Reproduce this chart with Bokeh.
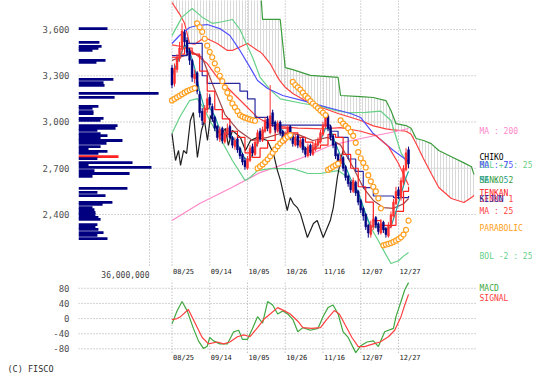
from bokeh.plotting import figure
from bokeh.models import Range1d, FixedTicker, Title
from bokeh.core.properties import value
from bokeh.layouts import column
from bokeh.embed import file_html
from bokeh.resources import INLINE

# ---------------- data ----------------
date_idx = [0, 15, 30, 45, 60, 75, 90]
date_labels = ["08/25", "09/14", "10/05", "10/26", "11/16", "12/07", "12/27"]
price_ticks = [2400, 2700, 3000, 3300, 3600]
price_tick_labels = ["2,400", "2,700", "3,000", "3,300", "3,600"]
macd_ticks = [-80, -40, 0, 40, 80]
macd_tick_labels = ["-80", "-40", "0", "40", "80"]

opens = [3350,3250,3340,3410,3470,3580,3530,3460,3400,3280, 3320,3180,3070,3000,3080,3160,3100,3030,2970,2890,
         2960,2870,2920,2970,2900,2840,2890,2830,2790,2750, 2700,2750,2840,2790,2860,2940,2880,2940,3020,2930,
         3060,3000,2940,3000,2940,2870,2910,2970,2910,2850, 2910,2840,2890,2830,2780,2850,2790,2820,2850,2870,
         2920,2970,3040,2970,2910,2860,2790,2730,2770,2710, 2650,2610,2550,2610,2550,2490,2440,2400,2330,2270,
         2320,2380,2340,2280,2350,2310,2260,2320,2390,2470, 2560,2510,2610,2690,2820]
closes = [3240,3350,3420,3480,3590,3520,3450,3400,3290,3310, 3200,3060,3010,3090,3150,3110,3020,2960,2900,2950,
          2880,2930,2960,2900,2850,2880,2820,2780,2740,2710, 2760,2830,2800,2870,2930,2890,2950,3010,2960,3040,
          2990,2950,2990,2930,2880,2920,2960,2900,2860,2900, 2850,2880,2820,2790,2840,2800,2830,2860,2880,2930,
          2980,3030,2960,2900,2850,2780,2740,2760,2700,2640, 2600,2560,2620,2540,2480,2430,2390,2320,2280,2330,
          2370,2330,2290,2340,2300,2270,2330,2400,2480,2550, 2520,2620,2700,2800,2730]
highs = [3370,3380,3440,3520,3640,3600,3550,3480,3410,3340, 3330,3200,3090,3110,3190,3180,3120,3040,2980,2970,
         2970,2950,2990,2980,2910,2900,2900,2840,2800,2770, 2780,2850,2860,2890,2950,2960,2970,3030,3040,3240,
         3080,3010,3010,3010,2950,2940,2980,2980,2920,2920, 2920,2900,2900,2840,2860,2860,2850,2880,2900,2950,
         3000,3060,3050,2980,2920,2870,2800,2790,2780,2720, 2660,2620,2640,2620,2560,2500,2450,2410,2340,2360,
         2400,2390,2350,2370,2360,2320,2350,2420,2500,2580, 2580,2640,2720,2830,2840]
lows = [3220,3230,3320,3390,3450,3490,3430,3370,3260,3250, 3180,3030,2980,2990,3060,3090,3000,2940,2880,2870,
        2860,2860,2900,2890,2830,2820,2800,2760,2720,2690, 2690,2740,2780,2780,2840,2870,2870,2930,2940,2920,
        2970,2930,2930,2910,2860,2860,2900,2880,2840,2840, 2830,2830,2800,2770,2770,2780,2780,2810,2840,2860,
        2910,2960,2940,2880,2830,2760,2720,2710,2680,2620, 2580,2540,2540,2520,2460,2410,2360,2300,2250,2250,
        2300,2310,2270,2270,2280,2250,2250,2310,2380,2460, 2500,2490,2590,2680,2700]

sar = [3140,3150,3160,3170,3180,3190,3200,3207,3214,3220,
       3640,3615,3585,3540,3495,3455,3420,3380,3340,3300,3265,3225,3190,3155,3120,3095,3070,3045,3035,3028,3022,3017,3012,3008,
       2700,2712,2725,2740,2758,2778,2800,2822,2843,2862,2878,2893,2905,2915,
       3260,3240,3225,3210,3190,3170,3155,3135,3120,3105,3090,3075,3060,3045,
       2690,2700,2710,2720,2730,
       3010,2990,2975,2960,2935,2910,2865,2805,2765,2735,2705,2655,2615,2580,2550,2505,2440,
       2200,2205,2210,2215,2222,2230,2240,2252,2270,2300,2360]

ma200_idx = [0, 11, 23, 35, 51, 63, 75, 87, 94]
ma200_val = [2361, 2471, 2569, 2672, 2763, 2848, 2893, 2932, 2958]

ma75_idx = [0,3,7,10,14,19,23,27,31,34,38,44,52,62,71,75,80,88,94]
ma75_val = [3509,3561,3613,3626,3632,3606,3561,3464,3354,3269,3217,3172,3139,3094,3055,3029,2925,2815,2744]

ma25_idx = [0,6,14,18,22,26,30,34,40,50,60,67,75,81,86,90,94]
ma25_val = [3500,3483,3379,3289,3224,3159,3094,3029,2975,2960,2955,2964,2940,2912,2840,2731,2590]

brown_idx = [0,8,12,16,21,26,32,38,44,50,56,62,67,72,76,80,84,88,92,94]
brown_val = [3400,3450,3420,3250,3050,2950,2880,2900,2930,2920,2880,2900,2850,2705,2575,2491,2445,2440,2470,2504]

ma5_idx = [0,3,5,7,9,11,13,15,17,19,21,23,25,27,29,31,33,35,37,39,41,43,45,47,49,51,53,55,57,59,61,63,65,67,69,
           71,73,75,77,79,81,83,85,87,89,91,93,94]
ma5_val = [3300,3420,3500,3460,3350,3200,3080,3090,3040,2950,2920,2920,2880,2830,2760,2760,2830,2900,2950,2990,
           2990,2960,2920,2920,2890,2870,2830,2810,2830,2880,2960,2950,2860,2780,2710,2630,2580,2500,2400,2320,
           2320,2320,2300,2320,2420,2530,2640,2680]

tenkan_idx = [0,3,5,8,11,14,17,20,23,26,29,32,35,38,41,44,47,50,53,56,59,62,65,68,71,74,77,80,83,86,89,92,94]
tenkan_val = [3420,3440,3480,3440,3330,3200,3080,3020,2940,2900,2800,2770,2830,2880,2960,2960,2930,2900,2870,2830,
              2850,2920,2900,2790,2700,2580,2480,2360,2330,2330,2420,2550,2580]

kijun_idx = [0,6,12,14,27,30,33,38,63,66,70,73,76,80,88,94]
kijun_val = [3430,3510,3300,3250,3200,3150,3030,2980,2940,2900,2760,2680,2575,2520,2510,2520]

bolu_idx = [0,4,8,12,16,20,24,27,32,35,39,43,52,60,65,70,77,83,87,91,94]
bolu_val = [3560,3680,3736,3680,3640,3650,3665,3600,3420,3290,3210,3150,3120,3100,3075,3060,3062,3070,3010,2800,2720]

bold_idx = [0,3,7,10,13,15,20,24,29,31,34,39,48,54,59,66,70,73,76,79,82,85,87,90,92,94]
bold_val = [2925,3029,3139,3152,3080,3010,2870,2750,2621,2640,2685,2698,2698,2666,2666,2685,2640,2560,2445,2316,
            2230,2140,2082,2100,2130,2154]

chiko_idx = [0,1.4,2.6,3.4,4.6,5.8,7.3,8.5,10.1,11.7,12.9,14.1,15.3,17.3,19.2,21.2,22.4,24,27.2,29.2,31.2,33.9,
             37.9,40.3,41.9,43.1,45.8,47,48.2,49.8,51,53.8,56.2,57.7,60.1,62.9,64.1,65.7,67.2,68]
chiko_val = [2925,2750,2815,2718,2815,2796,3010,3062,2770,2945,3010,2880,3042,2977,2912,2958,2848,2945,2900,2815,
             2880,2900,2880,2796,2685,2621,2426,2510,2471,2445,2407,2251,2342,2361,2251,2361,2445,2640,2770,2815]

cloud_idx = [0,3,5,7,9,13,18,22,24,30,34,35,36,39,42,43,45,48,55,66,67,75,80,85,87,89,93,95,97,100,103,106,111,116,119,120]
senko1 = [3775,3700,3640,3509,3505,3548,3509,3464,3464,3509,3464,3455,3440,3379,3289,3265,3225,3185,3120,3055,3050,
          3010,2975,2955,2950,2947,2940,2920,2860,2760,2666,2575,2504,2478,2510,2523]
senko2 = [3900,3900,3900,3900,3900,3900,3900,3900,3900,3900,3900,3900,3665,3665,3665,3665,3353,3340,3302,3289,3172,
          3165,3159,3139,3075,2990,2977,2960,2893,2880,2860,2815,2775,2735,2710,2660]

vp_price = [3606,3516,3490,3477,3464,3399,3386,3276,3256,3237,3185,3159,3101,3088,3068,3055,3023,3010,2977,2958,
            2945,2925,2912,2893,2880,2861,2841,2828,2809,2796,2776,2763,2737,2724,2705,2685,2666,2647,2569,2543,
            2523,2478,2465,2445,2432,2413,2400,2381,2368,2335,2316,2303,2283,2264,2244]
vp_vol_m = [14.7,10.6,11.7,10.1,7.1,13.7,9.1,17.7,12.7,13.2,40.6,18.3,10.1,7.1,7.6,7.6,12.7,11.2,19.8,18.8,
            9.6,11.2,14.7,11.2,22.3,14.2,11.2,5.1,14.7,10.1,20.3,9.6,27.4,5.1,37.0,8.1,25.9,7.1,24.8,9.6,
            13.7,17.2,12.2,7.1,8.1,8.6,8.6,10.1,11.2,9.6,8.6,10.1,12.7,9.6,14.7]
vp_current = 2776
vp_scale_m = 36
vp_scale_label = "36,000,000"

macd_idx = [0,2,4,6,8.5,10.5,12.5,14,15,16.5,19,22,24.5,26.5,28,30,32,34,36,38,40,42,44,46,48,50,52,55,58,60,
            62,64,66,68,70,73,75,77.5,80,82,84.5,88,89,91,92.5,94]
macd_val = [-14,20,45,21,-26,-59,-79,-73,-50,-59,-67,-67,-35,-31,-55,-55,-26,5,-12,45,36,12,20,12,-2,-35,-24,-31,
            -26,5,29,36,12,-35,-50,-90,-72,-62,-59,-74,-35,-26,5,45,76,95]
signal_idx = [0,2,3.4,6.5,9.3,12,14.5,18,20.5,23,26,28.5,31,34,36.5,39,42,44.5,47,50,52,55.5,59,61.5,64.5,66.5,
              69,71.5,74,76.5,80,82.7,86,88.5,91,92.5,94]
signal_val = [-3,0,5,24,-14,-50,-67,-62,-67,-62,-48,-43,-48,-24,-2,12,29,21,12,-7,-24,-26,-24,-2,21,12,-19,-50,
              -74,-74,-67,-62,-48,-31,5,36,64]

legend_text = ["MA : 200", "CHIKO", "BOL +2 : 25", "MA : 75", "SENKO 2", "MA : 5", "TENKAN", "SENKO 1",
               "KIJUN", "MA : 25", "PARABOLIC", "BOL -2 : 25"]
legend_price = [2938, 2770, 2718, 2718, 2621, 2621, 2536, 2497, 2497, 2420, 2309, 2128]
macd_legend_text = ["MACD", "SIGNAL"]
macd_legend_val = [80, 54]

# ---------------- layout / styles ----------------
C_UP = "#ff3030"
C_DN = "#000080"
C_MA5 = "#20a0a0"
C_MA25 = "#ff4040"
C_BROWN = "#a04848"
C_MA75 = "#5050ff"
C_MA200 = "#ff88c8"
C_BOL = "#66d088"
C_TENKAN = "#ff2020"
C_KIJUN = "#2828a0"
C_SENKO1 = "#ff4040"
C_SENKO2 = "#3c9c3c"
C_CHIKO = "#202020"
C_SAR = "#ffa020"
C_MACD = "#40a840"
C_SIGNAL = "#ff4040"
legend_color = [C_MA200, "#000000", C_BOL, C_MA75, C_SENKO2, C_MA5, C_TENKAN, C_SENKO1, C_KIJUN, C_MA25, C_SAR, C_BOL]
macd_legend_color = [C_MACD, C_SIGNAL]
FONT = "DejaVu Sans Mono"
GRID = "#a8a8a8"

X_LO, X_HI = -37.15, 143.25       # index units across the frame
GRID_END = 121.0                  # right end of the dotted grid
LEGEND_X = 122.2
P_LO, P_HI = 1972, 3788           # price frame (incl. date label row)
P_GRID_BOTTOM = 2069
P_DATE_ROW = 2030
P_VOL_ROW = 2014
M_LO, M_HI = -113.5, 100.6
M_GRID_BOTTOM = -90.3
M_DATE_ROW = -103.0
VOL_END = 230.2                   # millions across the frame


def base_axes(fig):
    fig.outline_line_color = None
    fig.xgrid.visible = False
    fig.ygrid.visible = False
    ax = fig.yaxis[0]
    ax.axis_line_color = None
    ax.major_tick_line_color = None
    ax.minor_tick_line_color = None
    ax.major_label_text_font = FONT
    ax.major_label_text_font_size = "9px"
    ax.major_label_text_color = "#505050"
    ax.major_label_standoff = 3


# ---------------- price panel ----------------
p = figure(width=532, height=280, x_range=Range1d(X_LO, X_HI), y_range=Range1d(P_LO, P_HI),
           output_backend="svg", toolbar_location=None, x_axis_location=None,
           min_border_left=78, min_border_right=0, min_border_top=0, min_border_bottom=0)
p.extra_x_ranges = {"vol": Range1d(0, VOL_END)}
base_axes(p)
p.yaxis.ticker = FixedTicker(ticks=price_ticks)
p.yaxis.major_label_overrides = {t: l for t, l in zip(price_ticks, price_tick_labels)}

# dotted grid
p.segment(x0=[X_LO] * len(price_ticks), x1=[GRID_END] * len(price_ticks), y0=price_ticks, y1=price_ticks,
          line_color=GRID, line_dash="1 2", line_width=1)
p.segment(x0=date_idx, x1=date_idx, y0=[P_GRID_BOTTOM] * len(date_idx), y1=[P_HI] * len(date_idx),
          line_color=GRID, line_dash="1 2", line_width=1)
p.segment(x0=[vp_scale_m], x1=[vp_scale_m], y0=[P_GRID_BOTTOM], y1=[P_HI], x_range_name="vol",
          line_color=GRID, line_dash="1 2", line_width=1)

# volume profile
vp_colors = [("#ff2020" if pr == vp_current else "#000080") for pr in vp_price]
p.hbar(y=vp_price, left=0, right=vp_vol_m, height=18, x_range_name="vol",
       fill_color=vp_colors, line_color=None)
p.text(x=[vp_scale_m], y=[P_VOL_ROW], text=[vp_scale_label], x_range_name="vol", text_align="right",
       text_baseline="middle", text_font=value(FONT), text_font_size=value("8px"), text_color="#404040")

# date labels
p.text(x=date_idx, y=[P_DATE_ROW] * len(date_idx), text=date_labels, text_align="left", x_offset=1,
       text_baseline="middle", text_font=value(FONT), text_font_size=value("7px"), text_color="#202020")

# ichimoku cloud
p.varea(x=cloud_idx, y1=senko1, y2=senko2, fill_color=None, fill_alpha=0,
        hatch_pattern="vertical_line", hatch_color="#c8c8c8", hatch_scale=3.0, hatch_weight=0.7)
p.line(cloud_idx, senko2, line_color=C_SENKO2, line_width=1.2)
p.line(cloud_idx, senko1, line_color=C_SENKO1, line_width=1.2)

# indicator lines
p.line(ma200_idx, ma200_val, line_color=C_MA200, line_width=1.2)
p.line(bolu_idx, bolu_val, line_color=C_BOL, line_width=1.2)
p.line(bold_idx, bold_val, line_color=C_BOL, line_width=1.2)
p.line(chiko_idx, chiko_val, line_color=C_CHIKO, line_width=1.2)
p.line(ma75_idx, ma75_val, line_color=C_MA75, line_width=1.2)
p.line(ma25_idx, ma25_val, line_color=C_MA25, line_width=1.2)
p.line(brown_idx, brown_val, line_color=C_BROWN, line_width=1.2)
p.step(kijun_idx, kijun_val, line_color=C_KIJUN, line_width=1.2, mode="after")
p.step(tenkan_idx, tenkan_val, line_color=C_TENKAN, line_width=1.2, mode="after")
p.line(ma5_idx, ma5_val, line_color=C_MA5, line_width=1.2)

# candles
idx = list(range(len(closes)))
c_col = [(C_UP if c >= o else C_DN) for o, c in zip(opens, closes)]
p.segment(x0=idx, y0=lows, x1=idx, y1=highs, line_color=c_col, line_width=1)
p.vbar(x=idx, bottom=opens, top=closes, width=0.75, fill_color=c_col, line_color=c_col, line_width=0.5)

# parabolic SAR
p.scatter(idx, sar, marker="circle", size=5, line_color=C_SAR, fill_color="white", line_width=1.2)

# right-hand legend
p.text(x=[LEGEND_X] * len(legend_text), y=legend_price, text=legend_text, text_color=legend_color,
       text_font=value(FONT), text_font_size=value("8px"), text_baseline="middle", text_align="left")

# ---------------- MACD panel ----------------
m = figure(width=532, height=93, x_range=p.x_range, y_range=Range1d(M_LO, M_HI),
           output_backend="svg", toolbar_location=None, x_axis_location=None,
           min_border_left=78, min_border_right=0, min_border_top=0, min_border_bottom=10)
base_axes(m)
m.yaxis.ticker = FixedTicker(ticks=macd_ticks)
m.yaxis.major_label_overrides = {t: l for t, l in zip(macd_ticks, macd_tick_labels)}
m.segment(x0=[X_LO] * len(macd_ticks), x1=[GRID_END] * len(macd_ticks), y0=macd_ticks, y1=macd_ticks,
          line_color=GRID, line_dash="1 2", line_width=1)
m.segment(x0=date_idx, x1=date_idx, y0=[M_GRID_BOTTOM] * len(date_idx), y1=[M_HI] * len(date_idx),
          line_color=GRID, line_dash="1 2", line_width=1)
m.text(x=date_idx, y=[M_DATE_ROW] * len(date_idx), text=date_labels, text_align="left", x_offset=1,
       text_baseline="middle", text_font=value(FONT), text_font_size=value("7px"), text_color="#202020")
m.line(macd_idx, macd_val, line_color=C_MACD, line_width=1.2)
m.line(signal_idx, signal_val, line_color=C_SIGNAL, line_width=1.2)
m.text(x=[LEGEND_X] * len(macd_legend_text), y=macd_legend_val, text=macd_legend_text,
       text_color=macd_legend_color, text_font=value(FONT), text_font_size=value("8px"),
       text_baseline="middle", text_align="left")
m.add_layout(Title(text="(C) FISCO", align="left", offset=-71, standoff=0, text_font=FONT,
                   text_font_size="8.5px", text_font_style="normal", text_color="#303030"), "below")

layout = column(p, m, spacing=0)
open("out.html", "w").write(file_html(layout, INLINE))
